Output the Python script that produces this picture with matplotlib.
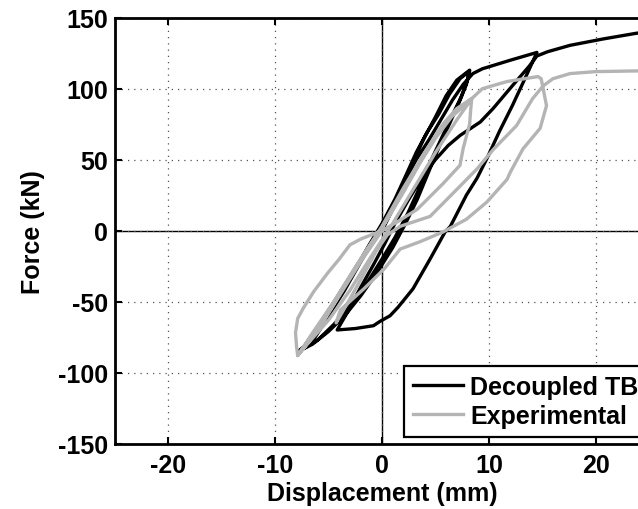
import matplotlib as mpl
mpl.use('Agg')
import matplotlib.pyplot as plt
import numpy as np

plt.rcParams['font.family'] = ['Liberation Sans', 'DejaVu Sans']
plt.rcParams['font.weight'] = 'bold'
plt.rcParams['font.size'] = 18
plt.rcParams['axes.unicode_minus'] = False

# Decoupled TB (displacement mm, force kN)
tb_x = [0, 1, 2, 3, 4, 5, 6, 7, 8.2,
        8.0, 7.4, 6.5, 5.5, 4.5, 3.5, 2.4, 1.2, 0, -1.5, -3, -4.5, -6, -7.8,
        -6.8, -5.5, -4, -2.5, -1.2, 0, 1.2, 2.3, 3.2, 4.2, 5.3, 6.3, 7.3, 8.2,
        7.9, 7.2, 6.3, 5.4, 4.4, 3.3, 2.2, 1, -0.5, -2, -3.5, -5, -6.5, -7.8,
        -6.5, -5, -3.5, -2, -0.6, 0.8, 2, 3.2, 4.4, 5.5, 6.6, 7.6, 8.5, 9.4, 12, 14.5,
        13.5, 12.2, 11, 9.8, 8.9, 7.9, 6.4, 5.9, 4.5, 2.9, 1.5, 0.75, -0.2, -0.8, -2.5, -4.2,
        -3.2, -2, -0.8, 0.2, 1.2, 2.5, 3.8, 5.0, 6.2, 7.3, 9.2, 10.4, 12.2, 13.8, 14.5,
        15.5, 17.6, 20.7, 23.8, 26]
tb_f = [0, 15, 32, 50, 66, 80, 95, 106, 113,
        106, 94, 80, 64, 48, 30, 12, -5, -20, -38, -53, -66, -77, -85,
        -78, -64, -46, -27, -10, 5, 22, 40, 55, 69, 82, 96, 107, 112.5,
        103, 90, 75, 60, 42, 22, 5, -12, -30, -46, -60, -71, -80, -85,
        -78, -60, -42, -22, -4, 15, 33, 50, 64, 78, 92, 103, 110.6, 114, 120, 125.5,
        109, 88, 70, 50.5, 37, 25, 3, -1, -20, -41, -54, -60, -64, -67, -69, -70,
        -57, -40, -24, -10, 5, 22, 38, 50, 60, 67, 76.5, 86, 102, 116, 123,
        126, 130.5, 135, 139, 141]

# Experimental
exp_x = [0, -2, -4, -6, -7.9,
         -6.5, -4.5, -2.5, -1, 0.5, 2, 3.5, 5, 6.5, 8.4,
         8.3, 8.2, 7.6, 7.3, 5.7, 3.3, 1.4, 0, -2, -3, -4, -5.1, -6.4, -7.4, -7.9, -8.1, -8.0, -7.9,
         -6, -4, -2, 0, 2, 4, 5.7, 7, 8.4,
         7, 5, 3, 1, -1, -3, -5, -7, -7.9,
         -6, -4, -2, 0, 2, 4, 5.7, 7, 8.4,
         9.4, 11.7, 14.6, 14.9, 15.4, 14.8, 13.2, 12, 11.7, 9.8, 7.9, 5.7, 3.5, 1.7, 0.2, -1.7, -3.9, -4.3,
         -3, -1.8, -0.6, 0.5, 1.7, 4.5, 7, 8.9, 10.4, 12.6, 14.1, 15.1, 16, 17.6, 20, 24, 26]
exp_f = [0, -22, -46, -70, -88,
         -72, -50, -26, -10, 8, 27, 47, 65, 80, 93,
         85, 75, 58, 46, 33, 15, 6, 0, -6, -10, -20, -30, -43, -55, -62, -72, -82, -88,
         -70, -45, -20, 3, 30, 55, 75, 86, 93,
         78, 55, 30, 5, -18, -42, -63, -80, -88,
         -68, -44, -20, 2, 28, 54, 74, 85, 93,
         100, 105, 108.5, 107, 88, 72, 57.6, 41, 36, 20, 8, -1, -8, -13, -27, -41, -56, -65,
         -48, -32, -15, -3, 3, 10, 29, 43.5, 57, 74, 93, 102, 107, 110.6, 112, 112.5, 112.5]

fig = plt.figure(figsize=(6.38, 5.1), dpi=100)
ax = fig.add_axes([0.1803, 0.1284, 0.837, 0.835])

ax.axhline(0, color='black', lw=1.0, zorder=1)
ax.axvline(0, color='black', lw=1.0, zorder=1)
ax.plot(tb_x, tb_f, color='black', lw=2.4, label='Decoupled TB', zorder=3)
ax.plot(exp_x, exp_f, color='#b4b4b4', lw=2.4, label='Experimental', zorder=4)

ax.set_xlim(-25, 25)
ax.set_ylim(-150, 150)
ax.set_xticks([-20, -10, 0, 10, 20])
ax.set_yticks([-150, -100, -50, 0, 50, 100, 150])
ax.grid(True, linestyle=(0, (1, 4)), color='#555555', lw=0.9)
ax.tick_params(direction='in', length=5, width=1.5, top=True, right=True, labelsize=18)
ax.tick_params(axis='x', pad=7)
ax.tick_params(axis='y', pad=5)
for s in ax.spines.values():
    s.set_linewidth(2.0)

ax.set_xlabel('Displacement (mm)', fontsize=18, fontweight='bold', labelpad=3)
ax.set_ylabel('Force (kN)', fontsize=18, fontweight='bold', labelpad=9)

# legend runs off the right edge like in the original figure
leg = ax.legend(loc='lower right', bbox_to_anchor=(1 - 2 / 534, 7 / 426),
                fontsize=18, frameon=True, fancybox=False,
                borderaxespad=0, borderpad=0.35, labelspacing=0.2,
                handlelength=2.0, handletextpad=0.3)
leg.get_frame().set_edgecolor('black')
leg.get_frame().set_linewidth(1.6)
leg.get_frame().set_alpha(1)

fig.savefig('out.png', dpi=100)
